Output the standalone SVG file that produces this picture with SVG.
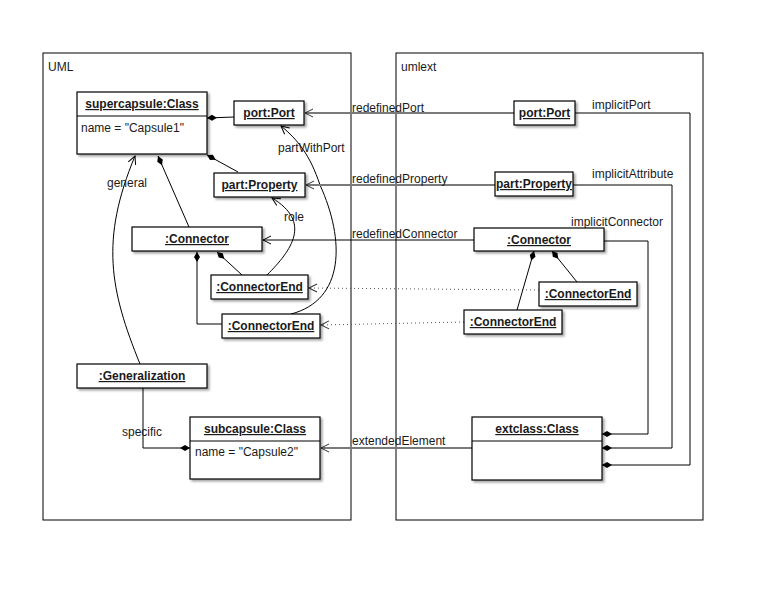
<svg xmlns="http://www.w3.org/2000/svg" width="775" height="592" viewBox="0 0 775 592">
<style>
text{font-family:"Liberation Sans",Arial,sans-serif;font-size:12px;fill:#1a1a1a}
.t{font-weight:bold;text-decoration:underline;text-anchor:middle}
.box{fill:#fff;stroke:#000;stroke-width:1.2;filter:url(#sh)}
.frame{fill:none;stroke:#000;stroke-width:1}
.c{fill:none;stroke:#000;stroke-width:1}
.g{fill:none;stroke:#7a7a7a;stroke-width:2}
.d{fill:none;stroke:#555;stroke-width:1;stroke-dasharray:1,3}
.comp{marker-start:url(#dia)}
.arr{marker-end:url(#arr)}
.garr{marker-end:url(#garr)}
</style>
<defs>
<filter id="sh" x="-10%" y="-10%" width="130%" height="140%">
<feDropShadow dx="2" dy="2" stdDeviation="1.2" flood-color="#000" flood-opacity="0.35"/>
</filter>
<marker id="dia" markerUnits="userSpaceOnUse" markerWidth="12" markerHeight="8" refX="0" refY="4" orient="auto">
<path d="M0,4 L5,1 L10,4 L5,7 Z" fill="#000"/>
</marker>
<marker id="arr" markerUnits="userSpaceOnUse" markerWidth="12" markerHeight="12" refX="9" refY="6" orient="auto">
<path d="M1,2 L9,6 L1,10" fill="none" stroke="#000" stroke-width="1"/>
</marker>
<marker id="garr" markerUnits="userSpaceOnUse" markerWidth="12" markerHeight="12" refX="9" refY="6" orient="auto">
<path d="M1,2 L9,6 L1,10" fill="none" stroke="#333" stroke-width="1"/>
</marker>
</defs>
<rect width="775" height="592" fill="#fff"/>

<g id="frame-uml"><rect class="frame" x="43" y="53" width="308" height="467"/><text x="48" y="71">UML</text></g>
<g id="frame-umlext"><rect class="frame" x="396" y="53" width="307" height="467"/><text x="401" y="71">umlext</text></g>

<g id="connectors">
<path class="c comp" d="M207,118 L234,117"/>
<path class="c comp" d="M207,155 L238,172"/>
<path class="c comp" d="M158,156 L189,227"/>
<path class="c arr" d="M140,364 C110,290 100,240 135,156"/>
<path class="c comp" d="M197,252 L197,324 L222,324"/>
<path class="c comp" d="M217,252 L242,275"/>
<path class="c arr" d="M267,275 C292,250 312,222 272,198"/>
<path class="c arr" d="M291,314 C345,300 345,240 320,185 C310,155 298,140 281,126"/>
<path class="g garr" d="M514,113 L305,113"/>
<path class="g garr" d="M495,185 L306,185"/>
<path class="c arr" d="M474,240 L263,240"/>
<path class="d garr" d="M539,290 L309,288"/>
<path class="d garr" d="M464,322 L321,325"/>
<path class="g garr" d="M472,448 L321,448"/>
<path class="c comp" d="M190,448 L143,448 L143,388"/>
<path class="c comp" d="M534,251 L517,310"/>
<path class="c comp" d="M552,251 L577,282"/>
<path class="c comp" d="M602,465 L690,465 L690,113 L575,113"/>
<path class="c comp" d="M602,448 L672,448 L672,185 L573,185"/>
<path class="c comp" d="M602,434 L648,434 L648,241 L604,241"/>
<text x="352" y="112">redefinedPort</text>
<text x="592" y="109">implicitPort</text>
<text x="352" y="183">redefinedProperty</text>
<text x="592" y="178">implicitAttribute</text>
<text x="571" y="226">implicitConnector</text>
<text x="352" y="238">redefinedConnector</text>
<text x="352" y="445">extendedElement</text>
<text x="107" y="187">general</text>
<text x="284" y="221">role</text>
<text x="278" y="152">partWithPort</text>
<text x="122" y="436">specific</text>
</g>

<g id="supercapsule"><rect class="box" x="77" y="92" width="130" height="62"/><line x1="77" y1="116" x2="207" y2="116" stroke="#000"/><text class="t" x="142" y="108">supercapsule:Class</text><text x="81" y="132">name = "Capsule1"</text></g>
<g id="uml-port"><rect class="box" x="234" y="101" width="70" height="24"/><text class="t" x="269" y="117">port:Port</text></g>
<g id="uml-part"><rect class="box" x="214" y="173" width="91" height="24"/><text class="t" x="259.5" y="189">part:Property</text></g>
<g id="uml-connector"><rect class="box" x="132" y="227" width="130" height="24"/><text class="t" x="197" y="243">:Connector</text></g>
<g id="uml-end1"><rect class="box" x="211" y="275" width="97" height="24"/><text class="t" x="259.5" y="291">:ConnectorEnd</text></g>
<g id="uml-end2"><rect class="box" x="222" y="314" width="98" height="24"/><text class="t" x="271" y="330">:ConnectorEnd</text></g>
<g id="generalization"><rect class="box" x="77" y="364" width="130" height="24"/><text class="t" x="142" y="380">:Generalization</text></g>
<g id="subcapsule"><rect class="box" x="190" y="417" width="130" height="62"/><line x1="190" y1="441" x2="320" y2="441" stroke="#000"/><text class="t" x="255" y="433">subcapsule:Class</text><text x="195" y="456">name = "Capsule2"</text></g>

<g id="ext-port"><rect class="box" x="514" y="101" width="61" height="24"/><text class="t" x="544.5" y="117">port:Port</text></g>
<g id="ext-part"><rect class="box" x="495" y="172" width="78" height="24"/><text class="t" x="534" y="188">part:Property</text></g>
<g id="ext-connector"><rect class="box" x="474" y="228" width="130" height="23"/><text class="t" x="539" y="244">:Connector</text></g>
<g id="ext-end-a"><rect class="box" x="539" y="282" width="98" height="24"/><text class="t" x="588" y="298">:ConnectorEnd</text></g>
<g id="ext-end-b"><rect class="box" x="464" y="310" width="98" height="24"/><text class="t" x="513" y="326">:ConnectorEnd</text></g>
<g id="extclass"><rect class="box" x="472" y="417" width="130" height="63"/><line x1="472" y1="441" x2="602" y2="441" stroke="#000"/><text class="t" x="537" y="433">extclass:Class</text></g>
</svg>
